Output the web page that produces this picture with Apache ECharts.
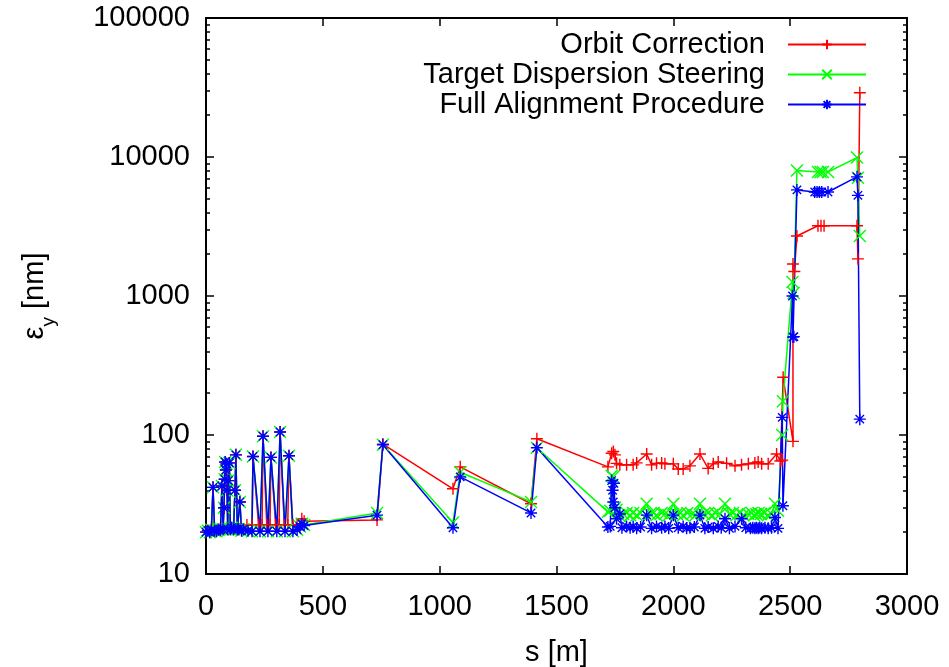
<!DOCTYPE html>
<html>
<head>
<meta charset="utf-8">
<script src="https://cdn.jsdelivr.net/npm/echarts@6/dist/echarts.min.js"></script>
<style>
  html, body { margin: 0; padding: 0; background: #fff; }
  #chart { width: 949px; height: 667px; }
</style>
</head>
<body>
<div id="chart"></div>
<script>
// s [m], emittance [nm]
const orbitCorrection = [
  [0,20],[8,20.5],[16,20],[23,20.8],[30,42],[37,20.5],[45,20.3],[53,20.8],[62,21],[68,43],[73,21],
  [77,30],[80,48],[82,64],[85,56],[88,62],[90,40],[93,21],[96,47],[100,63],[104,21],[110,21.5],
  [118,21],[124,40],[128,72],[134,21],[140,21],[145,33],[152,21],[175,22.5],[197,22.5],[201,70],
  [225,22.5],[240,22.5],[244,98],[260,22.5],[274,22.5],[278,69],[298,22.5],[313,22.5],[317,105],
  [335,22.5],[350,22.5],[355,71],[372,22.5],[390,22.5],[402,22.5],[410,25],[420,24],[732,24.5],
  [757,86],[1057,41],[1088,59],[1391,32],[1416,94],
  [1720,59],[1736,74],[1743,76],[1750,72],[1757,62.5],[1771,61],[1800,61],[1828,61],[1843,63],
  [1886,73],[1907,61],[1928,62.5],[1950,63],[1964,62],[2000,62],[2021,57],[2042,57],[2071,60],
  [2114,73],[2149,57.5],[2171,62],[2192,64],[2228,62.5],[2264,60],[2292,61],[2321,62],[2349,63],
  [2363,64],[2378,62],[2406,62],[2442,73],[2458,65],[2466,66],[2470,260],[2512,90],[2512,1700],
  [2518,1500],[2529,2700],[2619,3200],[2632,3200],[2645,3200],[2786,3200],[2790,1850],[2798,29000]
];

const dispersionSteering = [
  [0,20],[8,20.5],[16,20],[23,20.8],[30,42],[37,20.5],[45,20.3],[53,20.8],[62,21],[68,43],[73,21],
  [77,30],[80,48],[82,64],[85,56],[88,62],[90,40],[93,21],[96,47],[100,63],[104,21],[110,21.5],
  [118,21],[124,40],[128,72],[134,21],[140,21],[145,33],[152,20.5],[160,21],[180,20.5],[197,20.3],
  [201,70],[231,20.3],[244,98],[265,20.3],[278,69],[303,20.3],[317,105],[338,20.3],[355,71],
  [372,20.3],[390,20.8],[402,22],[410,23],[420,22.5],[732,27.5],[757,85],[1057,23.5],[1088,54],
  [1391,33],[1416,81],
  [1720,28],[1730,28.5],[1736,51],[1743,50],[1750,30],[1757,29],[1771,26],[1785,27],[1800,27.5],
  [1815,26.5],[1828,27.5],[1843,26.5],[1860,27.5],[1886,32],[1900,27],[1915,27.5],[1928,26.5],
  [1950,27.5],[1964,27],[1980,26.5],[2000,32],[2015,27],[2030,27.5],[2042,26.5],[2060,27.5],
  [2080,27],[2095,26.5],[2114,32],[2130,27],[2149,27.5],[2165,26.5],[2180,27.5],[2200,27],
  [2221,32],[2240,27],[2255,27.5],[2270,26.5],[2285,27.5],[2300,26.5],[2320,27],[2335,27.5],
  [2345,26.5],[2355,27],[2365,27.5],[2375,27],[2390,27.5],[2405,26.5],[2420,27],[2435,32],
  [2448,28.5],[2466,100],[2469,175],[2510,1260],[2515,1050],[2529,8000],[2619,7800],[2630,7800],
  [2640,7800],[2662,7800],[2786,9900],[2790,7100],[2798,2700]
];

const fullAlignment = [
  [0,20],[8,20.5],[16,20],[23,20.8],[30,42],[37,20.5],[45,20.3],[53,20.8],[62,21],[68,43],[73,21],
  [77,30],[80,48],[82,64],[85,56],[88,62],[90,40],[93,21],[96,47],[100,63],[104,21],[110,21.5],
  [118,21],[124,40],[128,72],[134,21],[140,21],[145,33],[152,20.5],[160,21],[180,20.5],[197,20.3],
  [201,70],[231,20.3],[244,98],[265,20.3],[278,69],[303,20.3],[317,105],[338,20.3],[355,71],
  [372,20.3],[390,20.8],[402,22],[410,23],[420,22.3],[732,26.5],[757,85],[1057,21.5],[1088,50],
  [1391,27.5],[1416,81],
  [1720,21.8],[1730,22],[1736,47],[1740,40],[1743,33],[1746,45],[1750,30],[1757,25],[1771,27],
  [1780,21.5],[1800,22],[1815,21.5],[1828,22],[1843,21.3],[1860,21.8],[1886,26.5],[1907,21.3],
  [1928,22],[1950,21.5],[1964,22],[1980,21.3],[2000,26.5],[2021,21.5],[2042,22],[2057,21.3],
  [2071,21.5],[2090,21.8],[2114,26.5],[2135,21.3],[2149,21.8],[2171,21.3],[2192,22],[2205,21.5],
  [2221,25],[2240,21.3],[2264,22],[2292,25],[2310,21.5],[2330,21.3],[2340,21.5],[2349,21.3],
  [2355,21.5],[2363,21.3],[2370,21.6],[2378,21.3],[2392,21.5],[2406,21.3],[2420,21.5],[2435,25.5],
  [2448,21.3],[2466,134],[2469,31],[2510,1000],[2512,506],[2516,510],[2529,5800],[2605,5600],
  [2615,5600],[2625,5600],[2635,5600],[2662,5600],[2786,7200],[2790,5300],[2798,130]
];

const seriesNames = ['Orbit Correction', 'Target Dispersion Steering', 'Full Alignment Procedure'];
const seriesColors = ['#ff0000', '#00ff00', '#0000ff'];
const yMajorTicks = [10, 100, 1000, 10000, 100000];
const xTickInterval = 500;

// minor log ticks 2..9 per decade
const yMinorTicks = [];
for (let d = 10; d < 100000; d *= 10) {
  for (let k = 2; k <= 9; k++) yMinorTicks.push(d * k);
}

const FONT = 'Liberation Sans';
const FS = 29;
const plusPath = 'path://M5,0L5,10M0,5L10,5';
const crossPath = 'path://M0,0L10,10M10,0L0,10';
const starPath = 'path://M5,0L5,10M0,5L10,5M1.5,1.5L8.5,8.5M8.5,1.5L1.5,8.5';
const symbols = [plusPath, crossPath, starPath];
const dataSets = [orbitCorrection, dispersionSteering, fullAlignment];

const chart = echarts.init(document.getElementById('chart'));

const axisLine = { show: true, lineStyle: { color: '#000', width: 2 } };
const majorTick = { inside: true, length: 8, lineStyle: { color: '#000', width: 1.5 } };

const option = {
  animation: false,
  backgroundColor: '#fff',
  grid: { left: 206, right: 42, top: 18, bottom: 93, containLabel: false, outerBoundsMode: 'none' },
  legend: {
    orient: 'vertical',
    right: 77,
    top: 25,
    align: 'right',
    itemWidth: 78,
    itemHeight: 12,
    itemGap: 1,
    textStyle: { fontFamily: FONT, fontSize: FS, color: '#000', padding: [0, 18, 0, 0] },
    data: seriesNames
  },
  xAxis: [
    {
      type: 'value',
      min: 0,
      max: 3000,
      interval: xTickInterval,
      position: 'bottom',
      name: 's [m]',
      nameLocation: 'middle',
      nameGap: 64,
      nameTextStyle: { fontFamily: FONT, fontSize: FS, color: '#000' },
      axisLine: axisLine,
      axisTick: majorTick,
      axisLabel: { fontFamily: FONT, fontSize: FS, color: '#000', margin: 18, formatter: v => String(v) },
      splitLine: { show: false }
    },
    {
      type: 'value',
      min: 0,
      max: 3000,
      interval: xTickInterval,
      position: 'top',
      axisLine: axisLine,
      axisTick: majorTick,
      axisLabel: { show: false },
      splitLine: { show: false }
    }
  ],
  yAxis: [
    {
      type: 'log',
      logBase: 10,
      min: 10,
      max: 100000,
      position: 'left',
      name: '{e|ε}{s|y}{e| [nm]}',
      nameLocation: 'middle',
      nameGap: 157,
      nameRotate: 90,
      nameTextStyle: {
        rich: {
          e: { fontFamily: FONT, fontSize: FS, color: '#000' },
          s: { fontFamily: FONT, fontSize: 19, color: '#000', verticalAlign: 'bottom', padding: [0, 0, -9, 0] }
        }
      },
      axisLine: axisLine,
      axisTick: Object.assign({ customValues: yMajorTicks }, majorTick),
      axisLabel: {
        fontFamily: FONT, fontSize: FS, color: '#000', margin: 16,
        customValues: yMajorTicks,
        formatter: v => String(v)
      },
      splitLine: { show: false }
    },
    {
      type: 'log',
      logBase: 10,
      min: 10,
      max: 100000,
      position: 'left',
      axisLine: { show: false },
      axisTick: { inside: true, length: 4, customValues: yMinorTicks, lineStyle: { color: '#000', width: 1.5 } },
      axisLabel: { show: false },
      splitLine: { show: false }
    },
    {
      type: 'log',
      logBase: 10,
      min: 10,
      max: 100000,
      position: 'right',
      axisLine: axisLine,
      axisTick: Object.assign({ customValues: yMajorTicks }, majorTick),
      axisLabel: { show: false },
      splitLine: { show: false }
    },
    {
      type: 'log',
      logBase: 10,
      min: 10,
      max: 100000,
      position: 'right',
      axisLine: { show: false },
      axisTick: { inside: true, length: 4, customValues: yMinorTicks, lineStyle: { color: '#000', width: 1.5 } },
      axisLabel: { show: false },
      splitLine: { show: false }
    }
  ],
  series: dataSets.map((d, i) => ({
    name: seriesNames[i],
    type: 'line',
    xAxisIndex: 0,
    yAxisIndex: 0,
    data: d,
    symbol: symbols[i],
    symbolSize: 12,
    showSymbol: true,
    showAllSymbol: true,
    color: seriesColors[i],
    lineStyle: { color: seriesColors[i], width: 1.5 },
    itemStyle: { color: seriesColors[i], borderColor: seriesColors[i], borderWidth: 1.4 },
    emphasis: { disabled: true }
  }))
};

chart.setOption(option);
</script>
</body>
</html>
